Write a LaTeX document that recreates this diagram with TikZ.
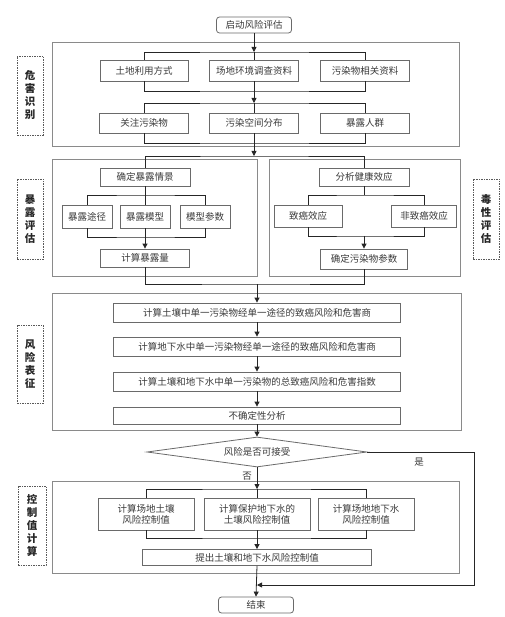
\documentclass[tikz,border=0pt]{standalone}
\usepackage{fontspec}
\setmainfont{Noto Sans CJK SC}
\usetikzlibrary{shapes.geometric,arrows.meta}
\definecolor{boxline}{HTML}{6A6A6A}
\definecolor{frameline}{HTML}{8A8A8A}
\definecolor{txt}{HTML}{3A3A3A}
\tikzset{
  box/.style={draw=boxline, line width=0.8pt, fill=white, inner sep=0pt, text=txt,
    font=\fontsize{9.5}{11}\selectfont, align=center},
  rbox/.style={box, rounded corners=3pt},
  frame/.style={draw=frameline, line width=1pt},
  tag/.style={draw=black!65, dash pattern=on 1.5pt off 1pt, line width=0.7pt, inner sep=0pt, align=center,
    font=\fontsize{10.5}{13}\selectfont\bfseries, text=black!85},
  conn/.style={draw=black!85, line width=0.8pt},
  arr/.style={conn, -{Triangle[length=5pt,width=5pt]}},
  lbl/.style={font=\fontsize{9.5}{11}\selectfont, text=txt, inner sep=0pt}
}
\begin{document}
\begin{tikzpicture}[x=1pt,y=-1pt]
\useasboundingbox (0,0) rectangle (504,617);
% frames
\draw[frame] (52,43) rectangle (459,147);
\draw[frame] (52,160) rectangle (257,276);
\draw[frame] (269,160) rectangle (460,276);
\draw[frame] (52,293) rectangle (461,430);
\draw[frame] (52,481) rectangle (459,573);
% tags
\node[tag, minimum width=26pt, minimum height=79pt] (t1) at (30,95.5) {危\\害\\识\\别};
\node[tag, minimum width=26pt, minimum height=80pt] (t2) at (30,219) {暴\\露\\评\\估};
\node[tag, minimum width=26pt, minimum height=80pt] (t3) at (486,219) {毒\\性\\评\\估};
\node[tag, minimum width=26pt, minimum height=78pt] (t4) at (30,364) {风\\险\\表\\征};
\node[tag, minimum width=28pt, minimum height=79pt] (t5) at (32,525.5) {控\\制\\值\\计\\算};
% start
\node[rbox, minimum width=75pt, minimum height=16pt] (start) at (254,25) {启动风险评估};
% hazard identification
\node[box, minimum width=88pt, minimum height=21pt] (h1) at (144,70.5) {土地利用方式};
\node[box, minimum width=89pt, minimum height=21pt] (h2) at (254,70.5) {场地环境调查资料};
\node[box, minimum width=89pt, minimum height=21pt] (h3) at (365,70.5) {污染物相关资料};
\node[box, minimum width=89pt, minimum height=20pt] (h4) at (144,123) {关注污染物};
\node[box, minimum width=89pt, minimum height=20pt] (h5) at (254,123) {污染空间分布};
\node[box, minimum width=89pt, minimum height=20pt] (h6) at (365,123) {暴露人群};
\coordinate (b1) at (254,52);
\coordinate (b2) at (254,91);
\coordinate (b3) at (254,103);
\coordinate (b4) at (254,143);
\coordinate (b5) at (254,156);
\draw[arr] (start.south) -- (b1);
\draw[conn] (h1.north) |- (b1) -| (h3.north);
\draw[conn] (b1) -- (h2.north);
\draw[conn] (h1.south) |- (b2) -| (h3.south);
\draw[conn] (h2.south) -- (b2);
\draw[arr] (b2) -- (b3);
\draw[conn] (h4.north) |- (b3) -| (h6.north);
\draw[conn] (b3) -- (h5.north);
\draw[conn] (h4.south) |- (b4) -| (h6.south);
\draw[conn] (h5.south) -- (b4);
\draw[arr] (b4) -- (b5);
% exposure assessment
\node[box, minimum width=90pt, minimum height=18pt] (e1) at (145,177) {确定暴露情景};
\node[box, minimum width=50pt, minimum height=23pt] (e2) at (87,216.5) {暴露途径};
\node[box, minimum width=50pt, minimum height=23pt] (e3) at (145,216.5) {暴露模型};
\node[box, minimum width=50pt, minimum height=23pt] (e4) at (205,216.5) {模型参数};
\node[box, minimum width=89pt, minimum height=18pt] (e5) at (145,258) {计算暴露量};
% toxicity assessment
\node[box, minimum width=90pt, minimum height=18pt] (x1) at (364,177) {分析健康效应};
\node[box, minimum width=68pt, minimum height=22pt] (x2) at (308,216) {致癌效应};
\node[box, minimum width=65pt, minimum height=22pt] (x3) at (424,216) {非致癌效应};
\node[box, minimum width=87pt, minimum height=20pt] (x4) at (364,259) {确定污染物参数};
\draw[conn] (e1.north) |- (b5) -| (x1.north);
\coordinate (eb1) at (145,195);
\coordinate (eb2) at (145,237);
\draw[conn] (e1.south) -- (eb1);
\draw[conn] (e2.north) |- (eb1) -| (e4.north);
\draw[conn] (eb1) -- (e3.north);
\draw[conn] (e2.south) |- (eb2) -| (e4.south);
\draw[conn] (e3.south) -- (eb2);
\draw[arr] (eb2) -- (e5.north);
\coordinate (xb1) at (364,195);
\coordinate (xb2) at (364,236);
\draw[conn] (x1.south) -- (xb1);
\draw[conn] (x2.north) |- (xb1) -| (x3.north);
\draw[conn] (x2.south) |- (xb2) -| (x3.south);
\draw[arr] (xb2) -- (x4.north);
\coordinate (mb) at (257,284);
\draw[conn] (e5.south) |- (mb) -| (x4.south);
% risk characterization
\node[box, minimum width=287pt, minimum height=19pt] (r1) at (257,312.5) {计算土壤中单一污染物经单一途径的致癌风险和危害商};
\node[box, minimum width=287pt, minimum height=19pt] (r2) at (257,346.5) {计算地下水中单一污染物经单一途径的致癌风险和危害商};
\node[box, minimum width=287pt, minimum height=19pt] (r3) at (257,381.5) {计算土壤和地下水中单一污染物的总致癌风险和危害指数};
\node[box, minimum width=287pt, minimum height=17pt] (r4) at (257,415.5) {不确定性分析};
\draw[arr] (mb) -- (r1.north);
\draw[arr] (r1) -- (r2);
\draw[arr] (r2) -- (r3);
\draw[arr] (r3) -- (r4);
% decision
\node[diamond, draw=boxline, line width=0.8pt, fill=white, aspect=7.3, inner sep=0pt,
  minimum width=220pt, minimum height=30pt, text=txt, font=\fontsize{9.5}{11}\selectfont] (d) at (257,452) {风险是否可接受};
\draw[arr] (r4) -- (d.north);
% control values
\node[box, minimum width=96pt, minimum height=32pt] (c1) at (146,514) {计算场地土壤\\风险控制值};
\node[box, minimum width=106pt, minimum height=32pt] (c2) at (257,514) {计算保护地下水的\\土壤风险控制值};
\node[box, minimum width=96pt, minimum height=32pt] (c3) at (366,514) {计算场地地下水\\风险控制值};
\node[box, minimum width=229pt, minimum height=16pt] (c4) at (257,557.5) {提出土壤和地下水风险控制值};
\coordinate (cb1) at (257,489);
\coordinate (cb2) at (257,538);
\draw[arr] (d.south) -- (cb1);
\draw[conn] (c1.north) |- (cb1) -| (c3.north);
\draw[conn] (cb1) -- (c2.north);
\draw[conn] (c1.south) |- (cb2) -| (c3.south);
\draw[conn] (c2.south) -- (cb2);
\draw[arr] (cb2) -- (c4.north);
% end
\node[rbox, minimum width=75pt, minimum height=16pt] (end) at (256,605) {结束};
\draw[arr] (c4.south) -- (end.north);
\coordinate (yc1) at (474,452);
\coordinate (yc2) at (474,585);
\coordinate (yc3) at (257,585);
\draw[arr] (d.east) -- (yc1) -- (yc2) -- (yc3);
\node[lbl] (yes) at (419,462) {是};
\node[lbl] (no) at (247,476) {否};
\end{tikzpicture}
\end{document}
